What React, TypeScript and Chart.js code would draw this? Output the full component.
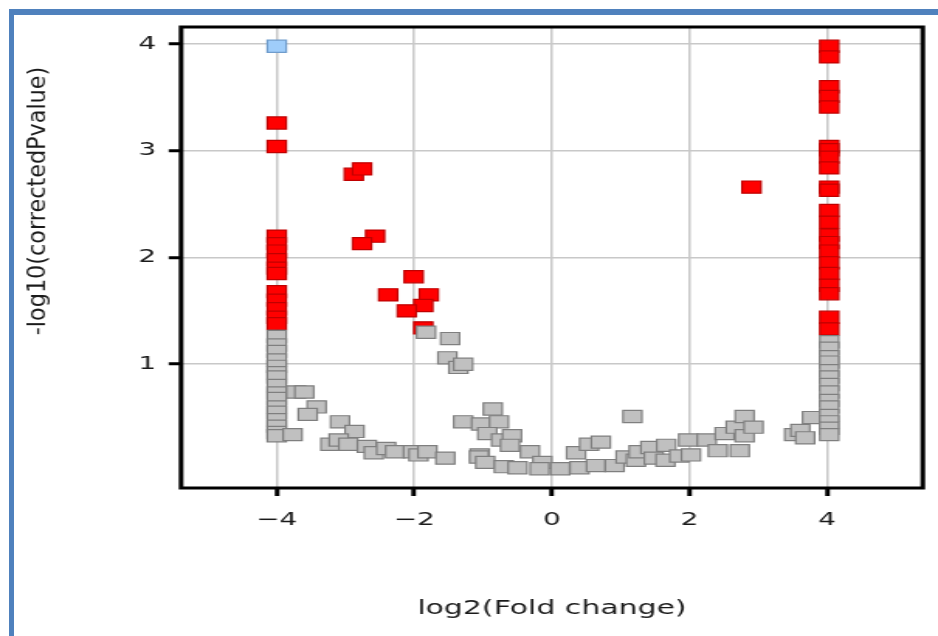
import React, { useEffect, useRef } from "react";
import { Chart, registerables } from "chart.js";

Chart.register(...registerables);

const xTickValues = [-4, -2, 0, 2, 4];
const yTickValues = [1, 2, 3, 4];
const xTitle = "log2(Fold change)";
const yTitle = "-log10(correctedPvalue)";

// significant (red)
const redPoints: [number, number][] = [
  [-4, 3.26], [-4, 3.04],
  [-4, 2.2], [-4, 2.13], [-4, 2.06], [-4, 1.98], [-4, 1.9], [-4, 1.85],
  [-4, 1.68], [-4, 1.6], [-4, 1.52], [-4, 1.44], [-4, 1.38],
  [-2.88, 2.78], [-2.76, 2.83], [-2.57, 2.2], [-2.76, 2.13], [-2.01, 1.82],
  [-2.38, 1.65], [-1.79, 1.65], [-1.87, 1.55], [-2.11, 1.5], [-1.87, 1.34],
  [2.9, 2.66],
  [4.03, 3.98], [4.03, 3.88], [4.03, 3.6], [4.03, 3.51], [4.03, 3.41],
  [4.03, 3.04], [4.03, 3.01], [4.03, 2.94], [4.03, 2.84], [4.03, 2.66], [4.03, 2.63],
  [4.03, 2.44], [4.03, 2.33], [4.03, 2.21], [4.03, 2.14], [4.03, 2.06], [4.03, 1.95],
  [4.03, 1.85], [4.03, 1.74], [4.03, 1.66], [4.03, 1.44], [4.03, 1.33],
];

// not significant (grey)
const grayPoints: [number, number][] = [
  [-4, 1.26], [-4, 1.18], [-4, 1.12], [-4, 1.04], [-4, 0.98], [-4, 0.92], [-4, 0.88],
  [-4, 0.8], [-4, 0.73], [-4, 0.68], [-4, 0.6], [-4, 0.55], [-4, 0.48], [-4, 0.42],
  [-4, 0.36], [-4, 0.33],
  [-3.72, 0.74], [-3.6, 0.74], [-3.42, 0.6], [-3.55, 0.53], [-3.77, 0.34], [-3.08, 0.46],
  [-2.87, 0.37], [-3.22, 0.25], [-3.1, 0.29], [-2.96, 0.25], [-2.69, 0.23], [-2.59, 0.17],
  [-2.41, 0.21], [-2.28, 0.18], [-2.02, 0.18], [-1.94, 0.15], [-1.81, 0.18], [-1.55, 0.12],
  [-1.83, 1.3], [-1.48, 1.24], [-1.52, 1.06], [-1.36, 0.97], [-1.29, 1.0],
  [-1.29, 0.46], [-1.03, 0.44], [-0.86, 0.58], [-0.77, 0.46], [-0.94, 0.35], [-0.74, 0.29],
  [-0.58, 0.33], [-0.61, 0.24], [-1.05, 0.15], [-1.06, 0.13], [-0.97, 0.08], [-0.7, 0.04],
  [-0.5, 0.03], [-0.32, 0.18], [-0.14, 0.08], [-0.18, 0.02], [0.12, 0.02], [0.35, 0.17],
  [0.4, 0.03], [0.54, 0.25], [0.71, 0.27], [0.64, 0.05], [0.91, 0.05], [1.07, 0.13],
  [1.17, 0.51], [1.22, 0.1], [1.26, 0.18], [1.43, 0.22], [1.48, 0.12], [1.65, 0.1],
  [1.66, 0.24], [1.85, 0.14], [1.98, 0.29], [2.02, 0.15], [2.25, 0.29], [2.41, 0.19],
  [2.51, 0.35], [2.67, 0.41], [2.73, 0.19], [2.8, 0.51], [2.8, 0.33], [2.93, 0.41],
  [3.52, 0.34], [3.61, 0.38], [3.68, 0.31], [3.78, 0.5],
  [4.03, 1.21], [4.03, 1.15], [4.03, 1.07], [4.03, 1.02], [4.03, 0.94], [4.03, 0.88],
  [4.03, 0.81], [4.03, 0.74], [4.03, 0.66], [4.03, 0.6], [4.03, 0.52], [4.03, 0.46],
  [4.03, 0.4], [4.03, 0.34],
];

// selected (blue)
const bluePoints: [number, number][] = [[-4, 3.98]];

const CANVAS_W = 605;
const CANVAS_H = 636;

export default function App() {
  const ref = useRef<HTMLCanvasElement>(null);

  useEffect(() => {
    if (!ref.current) return;
    const frame = {
      id: "frameAndTitles",
      afterDraw(chart: any) {
        const ctx = chart.ctx;
        const a = chart.chartArea;
        ctx.save();
        ctx.strokeStyle = "#000";
        ctx.lineWidth = 3;
        ctx.strokeRect(a.left, a.top, a.right - a.left, a.bottom - a.top);
        ctx.fillStyle = "#1a1a1a";
        ctx.textAlign = "center";
        ctx.textBaseline = "middle";
        ctx.font = '19.3px "DejaVu Sans"';
        ctx.fillText(xTitle, (a.left + a.right) / 2, a.bottom + 121);
        ctx.translate(a.left - 92.3, a.top + 174);
        ctx.rotate(-Math.PI / 2);
        ctx.scale(1.44, 1);
        ctx.font = '15.5px "DejaVu Sans"';
        ctx.fillText(yTitle, 0, 0);
        ctx.restore();
      },
    };

    const toXY = (pts: [number, number][]) => pts.map(([x, y]) => ({ x, y }));
    const pointCommon = {
      pointStyle: "rect",
      pointRadius: 8.6,
      pointHoverRadius: 8.6,
      borderWidth: 1.2,
      showLine: false,
    };

    const chart = new Chart(ref.current, {
      type: "scatter",
      data: {
        datasets: [
          { label: "selected", data: toXY(bluePoints), backgroundColor: "#9fcdfa", borderColor: "#6f9ccc", ...pointCommon } as any,
          { label: "not significant", data: toXY(grayPoints), backgroundColor: "#c0c0c0", borderColor: "#7f7f7f", ...pointCommon } as any,
          { label: "significant", data: toXY(redPoints), backgroundColor: "#ff0000", borderColor: "#c00000", ...pointCommon } as any,
        ],
      },
      options: {
        responsive: false,
        animation: false,
        events: [],
        layout: { padding: { top: 27, right: 2, left: 0, bottom: 0 } },
        plugins: { legend: { display: false }, tooltip: { enabled: false } },
        scales: {
          x: {
            type: "linear",
            min: -5.39,
            max: 5.39,
            afterFit: (s: any) => { s.height = 148; },
            afterBuildTicks: (s: any) => { s.ticks = xTickValues.map((v) => ({ value: v })); },
            grid: { color: "#c8c8c8", lineWidth: 1.5, tickColor: "#000", tickWidth: 3, tickLength: 8 },
            border: { display: false },
            ticks: {
              padding: 13.5,
              color: "#1a1a1a",
              font: { family: "DejaVu Sans", size: 18 },
              callback: (v: any) => String(v).replace("-", "\u2212"),
            },
          },
          y: {
            type: "linear",
            min: -0.16,
            max: 4.16,
            afterFit: (s: any) => { s.width = 116.8; },
            afterBuildTicks: (s: any) => { s.ticks = yTickValues.map((v) => ({ value: v })); },
            grid: { color: "#c8c8c8", lineWidth: 1.5, tickColor: "#000", tickWidth: 3, tickLength: 8 },
            border: { display: false },
            ticks: {
              padding: 8,
              color: "#1a1a1a",
              font: { family: "DejaVu Sans", size: 18 },
              callback: (v: any) => String(v),
            },
          },
        },
      } as any,
      plugins: [frame],
    });
    return () => chart.destroy();
  }, []);

  return (
    <div style={{ position: "fixed", left: 0, top: 0, width: 938, height: 636, background: "#fff", overflow: "hidden" }}>
      <canvas
        ref={ref}
        width={CANVAS_W}
        height={CANVAS_H}
        style={{ position: "absolute", left: 0, top: 0, width: "938px", height: "636px" }}
      />
      <div
        style={{
          position: "absolute",
          left: 9,
          top: 9,
          width: 2000,
          height: 2000,
          borderLeft: "5px solid #4f81bd",
          borderTop: "6px solid #4f81bd",
          pointerEvents: "none",
        }}
      />
    </div>
  );
}
